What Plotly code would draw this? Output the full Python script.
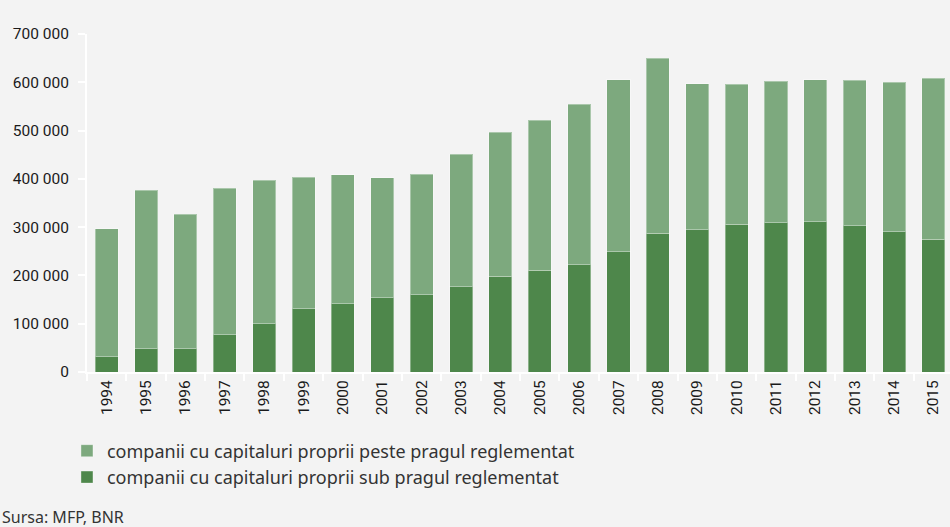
import plotly.graph_objects as go

years = [str(y) for y in range(1994, 2016)]
# companii cu capitaluri proprii sub pragul reglementat (bottom, dark)
sub_prag = [31700, 48300, 48300, 77300, 100000, 131100, 141500, 153300, 160100, 176700,
            198200, 210500, 222200, 249200, 287200, 294700, 305900, 309200, 311300, 303000,
            290600, 274800]
# total (top of stacked bar)
total = [296200, 376900, 327200, 380400, 397000, 403800, 408000, 401800, 409400, 450800,
         496400, 521900, 554400, 605400, 650300, 597100, 596400, 602000, 604800, 604100,
         600600, 608200]
peste_prag = [t - s for t, s in zip(total, sub_prag)]

y_ticks = [0, 100000, 200000, 300000, 400000, 500000, 600000, 700000]

LIGHT = "#7DA97E"
DARK = "#4E874B"
BG = "#F3F3F3"
AXIS_FONT = dict(family="Roboto, sans-serif", size=15.5, color="#1a1a1a")
TEXT_FONT = dict(family="Noto Sans, Open Sans, sans-serif", size=18, color="#333333")
SRC_FONT = dict(family="Noto Sans, Open Sans, sans-serif", size=16, color="#333333")

fig = go.Figure()
fig.add_trace(go.Bar(
    x=years, y=sub_prag, name="companii cu capitaluri proprii sub pragul reglementat",
    marker=dict(color=DARK, line=dict(color="rgba(255,255,255,0.35)", width=1)),
))
fig.add_trace(go.Bar(
    x=years, y=peste_prag, name="companii cu capitaluri proprii peste pragul reglementat",
    marker=dict(color=LIGHT, line=dict(color="rgba(255,255,255,0.35)", width=1)),
))

fig.update_layout(
    width=950, height=527,
    barmode="stack", bargap=0.415,
    paper_bgcolor=BG, plot_bgcolor=BG,
    separators=". ",
    margin=dict(l=87, r=0, t=34, b=155),
    showlegend=True,
    legend=dict(
        orientation="v", traceorder="reversed",
        x=-0.0232, xanchor="left", xref="paper",
        y=-0.179, yanchor="top", yref="paper",
        font=TEXT_FONT, bgcolor="rgba(0,0,0,0)",
        itemwidth=30, tracegroupgap=0,
    ),
    xaxis=dict(
        type="category", range=[-0.5, 21.42],
        showline=True, linecolor="white", linewidth=2,
        ticks="outside", tickson="boundaries", ticklen=7, tickwidth=2, tickcolor="white",
        tickangle=-90, tickfont=AXIS_FONT, showgrid=False, zeroline=False,
    ),
    yaxis=dict(
        range=[0, 700000], tickvals=y_ticks, tickformat=",d",
        showline=True, linecolor="white", linewidth=2,
        ticks="outside", ticklen=7, tickwidth=2, tickcolor="white",
        tickfont=AXIS_FONT, showgrid=False, zeroline=False,
        ticklabelstandoff=6,
    ),
    annotations=[dict(
        text="Sursa: MFP, BNR", xref="paper", yref="paper",
        x=-87 / 863, y=(372 - 517) / 338, xanchor="left", yanchor="middle",
        showarrow=False, font=SRC_FONT,
    )],
)

fig.write_html("out.html", config={"displayModeBar": False},
               post_script="document.body.style.margin='0';")
